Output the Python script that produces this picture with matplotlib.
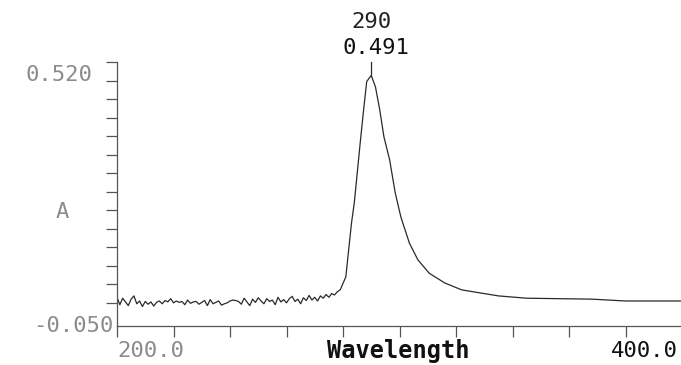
import numpy as np
import matplotlib
matplotlib.use("Agg")
import matplotlib.pyplot as plt

# noisy baseline, 1 nm steps from 200 to 278 nm
base_wl = list(range(200, 279))
base_abs = [0.012, -0.004, 0.010, 0.002, -0.006, 0.008, 0.015, -0.002, 0.004, -0.008,
            0.003, -0.003, 0.002, -0.007, 0.001, 0.004, -0.002, 0.005, 0.002, 0.009,
            0.000, 0.004, 0.001, 0.003, -0.004, 0.006, -0.001, 0.002, 0.003, -0.003,
            0.001, 0.005, -0.006, 0.007, -0.002, 0.001, 0.004, -0.005, -0.002, 0.000,
            0.004, 0.006, 0.005, 0.003, -0.003, 0.010, 0.002, -0.006, 0.008, 0.001,
            0.011, 0.004, -0.002, 0.009, 0.003, 0.006, -0.004, 0.012, 0.002, 0.007,
            0.000, 0.009, 0.014, 0.003, 0.008, -0.002, 0.011, 0.005, 0.016, 0.006,
            0.012, 0.004, 0.015, 0.010, 0.018, 0.012, 0.020, 0.017, 0.024]

# band and tail
band_wl = [279, 281, 283, 284, 285.5, 286.3, 287.3, 288.4, 290, 291.5, 293, 294.5,
           296.5, 298.5, 300.5, 303.5, 306.5, 310.5, 316, 322, 329, 335, 345, 368,
           380, 400]
band_abs = [0.028, 0.056, 0.172, 0.216, 0.309, 0.358, 0.417, 0.478, 0.491, 0.466,
            0.417, 0.358, 0.309, 0.237, 0.185, 0.129, 0.093, 0.064, 0.043, 0.028,
            0.021, 0.015, 0.010, 0.008, 0.004, 0.004]

peak_wl = 290
peak_abs = 0.491

wl = base_wl + band_wl
absb = base_abs + band_abs

W, H = 681, 365
fig = plt.figure(figsize=(W / 100, H / 100), dpi=100)
fig.patch.set_facecolor("white")

# axes box in pixels: left 117, right 682, top 62, bottom 326
ax = fig.add_axes([117 / W, (H - 326) / H, (682 - 117) / W, (326 - 62) / H])
ax.set_xlim(200, 400)
ax.set_ylim(-0.05, 0.52)

ax.plot(wl, absb, color="#2a2a2a", lw=0.9)

# peak marker
ax.plot([peak_wl, peak_wl], [peak_abs, 0.52], color="#2a2a2a", lw=0.9, clip_on=False)

for s in ["top", "right"]:
    ax.spines[s].set_visible(False)
for s in ["left", "bottom"]:
    ax.spines[s].set_color("#555555")
    ax.spines[s].set_linewidth(0.9)

ax.set_xticks(np.arange(200, 401, 20))
ax.set_xticklabels([])
ax.tick_params(axis="x", direction="out", length=8, width=0.9, color="#555555")
ax.set_yticks(list(np.arange(0, 0.49, 0.04)) + [0.52])
ax.set_yticklabels([])
ax.tick_params(axis="y", direction="out", length=8, width=0.9, color="#555555")

mono = "DejaVu Sans Mono"
gray = "#8c8c8c"

def px(x, y):
    return x / W, 1 - y / H

fig.text(*px(92, 75), "0.520", ha="right", va="center", family=mono, fontsize=16, color=gray)
fig.text(*px(113, 326), "-0.050", ha="right", va="center", family=mono, fontsize=16, color=gray)
fig.text(*px(62, 212), "A", ha="center", va="center", family=mono, fontsize=16, color=gray)
fig.text(*px(117, 351), "200.0", ha="left", va="center", family=mono, fontsize=16, color=gray)
fig.text(*px(398, 351), "Wavelength", ha="center", va="center", family=mono, fontsize=17,
         color="#111111", fontweight="bold")
fig.text(*px(678, 351), "400.0", ha="right", va="center", family=mono, fontsize=16, color="#111111")

ax.annotate(str(peak_wl), xy=(peak_wl, 0.52), xytext=(0, 40), textcoords="offset pixels",
            ha="center", va="center", family=mono, fontsize=16, color="#222222")
ax.annotate(f"{peak_abs:.3f}", xy=(peak_wl, 0.52), xytext=(5, 14), textcoords="offset pixels",
            ha="center", va="center", family=mono, fontsize=16, color="#111111")

fig.savefig("out.png", dpi=100)
